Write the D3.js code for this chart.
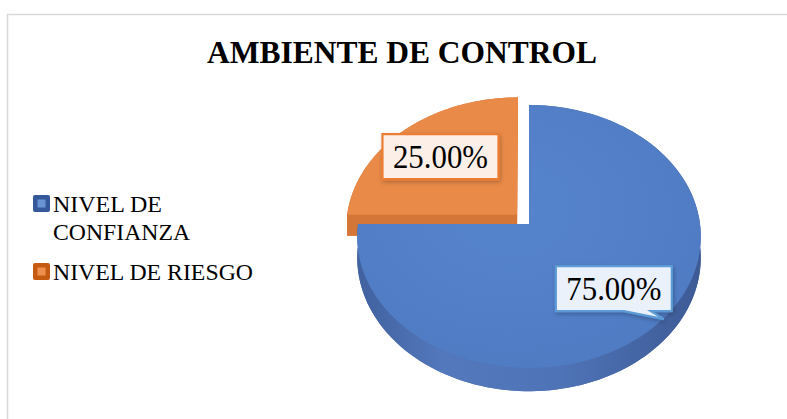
<!DOCTYPE html>
<html>
<head>
<meta charset="utf-8">
<title>Ambiente de control</title>
<script src="https://d3js.org/d3.v7.min.js"></script>
<style>
    body { margin: 0; background: #fff; }
    text { font-family: "Liberation Serif", "Times New Roman", "DejaVu Serif", serif; fill: #000; }
</style>
</head>
<body>
<div id="chart"></div>
<script>
    // data
    var categories = ["NIVEL DE CONFIANZA", "NIVEL DE RIESGO"];
    var values = [75, 25];
    var valueLabels = ["75.00%", "25.00%"];
    var legendLines = [["NIVEL DE", "CONFIANZA"], ["NIVEL DE RIESGO"]];
    var legendWidths = [[109, 137], [200]];
    var explode = [0, 0.1];

    var topColors = ["#5381c9", "#e98a48"];
    var sideColors = ["#4e6fae", "#d47637"];
    var boxFill = ["#eaf1fa", "#fbefe8"];
    var boxStroke = ["#5b9bd5", "#ed7d31"];
    var legendOuter = ["#34589a", "#c55a11"];
    var legendInner = ["#6a93d6", "#f0904f"];

    var serif = '"Liberation Serif", "Times New Roman", serif';
    var width = 787, height = 419;

    var svg = d3.select("#chart").append("svg")
        .attr("width", width)
        .attr("height", height);

    var defs = svg.append("defs");
    var shadow = defs.append("filter").attr("id", "shadow")
        .attr("x", "-20%").attr("y", "-20%").attr("width", "140%").attr("height", "150%");
    shadow.append("feDropShadow").attr("dx", 1).attr("dy", 2)
        .attr("stdDeviation", 2).attr("flood-color", "#000").attr("flood-opacity", 0.25);

    var wallGrad = defs.append("linearGradient").attr("id", "wall0")
        .attr("gradientUnits", "userSpaceOnUse")
        .attr("x1", 358).attr("x2", 701).attr("y1", 0).attr("y2", 0);
    [["0", "#41619f"], ["0.25", "#5378bc"], ["0.6", "#4e73b6"], ["1", "#3d5a95"]].forEach(function(s) {
        wallGrad.append("stop").attr("offset", s[0]).attr("stop-color", s[1]);
    });
    var topGrad = defs.append("radialGradient").attr("id", "top0")
        .attr("cx", "45%").attr("cy", "40%").attr("r", "65%");
    topGrad.append("stop").attr("offset", "0").attr("stop-color", "#5684cc");
    topGrad.append("stop").attr("offset", "1").attr("stop-color", "#4f7bc3");

    // chart area frame
    svg.append("rect")
        .attr("x", 7.5).attr("y", 14.5)
        .attr("width", 800).attr("height", 420)
        .attr("fill", "none")
        .attr("stroke", "#d9d9d9")
        .attr("stroke-width", 1.5);

    // title
    svg.append("text")
        .attr("x", 402).attr("y", 63)
        .attr("text-anchor", "middle")
        .attr("textLength", 390)
        .attr("lengthAdjust", "spacingAndGlyphs")
        .style("font-family", serif)
        .style("font-size", "31px")
        .style("font-weight", "bold")
        .text("AMBIENTE DE CONTROL");

    // perspective projection of the pie plane
    var cx = 529, cy = 224, A = 171, B = 130.3, k = 0.095, depth = 21;
    function proj(u, w, d) {
        var s = 1 / (1 - k * w);
        return [cx + A * u * s, cy + B * w * s + (d || 0) * s];
    }

    var arcs = d3.pie().sort(null).value(function(d) { return d; })(values);

    function slicePts(a, i, d) {
        var mid = (a.startAngle + a.endAngle) / 2;
        var eu = explode[i] * Math.sin(mid), ew = -explode[i] * Math.cos(mid);
        var n = 140, pts = [proj(eu, ew, d)];
        for (var j = 0; j <= n; j++) {
            var t = a.startAngle + (a.endAngle - a.startAngle) * j / n;
            pts.push(proj(eu + Math.sin(t), ew - Math.cos(t), d));
        }
        return pts;
    }

    var line = d3.line();
    var order = [1, 0];  // back slice first

    order.forEach(function(i) {
        var a = arcs[i];
        var top = slicePts(a, i, 0);
        var bottom = slicePts(a, i, depth);
        var g = svg.append("g").attr("class", "slice");

        // bottom face / radial walls
        g.append("path").attr("d", line(bottom) + "Z").attr("fill", sideColors[i]);
        [1, top.length - 1].forEach(function(e) {
            var q = [top[0], top[e], bottom[e], bottom[0]];
            g.append("path").attr("d", line(q) + "Z").attr("fill", sideColors[i]);
        });
        // outer curved wall
        var wall = top.slice(1).concat(bottom.slice(1).reverse());
        g.append("path").attr("d", line(wall) + "Z")
            .attr("fill", i === 0 ? "url(#wall0)" : sideColors[i]);
        // top face
        g.append("path").attr("d", line(top) + "Z")
            .attr("fill", i === 0 ? "url(#top0)" : topColors[i]);
    });

    // data labels
    var boxW = 116, boxH = 45;
    arcs.forEach(function(a, i) {
        var mid = (a.startAngle + a.endAngle) / 2;
        var eu = explode[i] * Math.sin(mid), ew = -explode[i] * Math.cos(mid);
        var r = 0.67;
        var p = proj(eu + r * Math.sin(mid), ew - r * Math.cos(mid), 0);
        var x0 = p[0] - boxW / 2, y0 = p[1] - boxH / 2;
        var shape;
        if (i === 0) {
            // callout with a small tail at the lower right
            shape = [[x0, y0], [x0 + boxW, y0], [x0 + boxW, y0 + boxH],
                     [x0 + 95, y0 + boxH], [x0 + 108, y0 + boxH + 8],
                     [x0 + 68, y0 + boxH], [x0, y0 + boxH]];
        } else {
            shape = [[x0, y0], [x0 + boxW, y0], [x0 + boxW, y0 + boxH], [x0, y0 + boxH]];
        }
        svg.append("path")
            .attr("d", line(shape) + "Z")
            .attr("fill", boxFill[i])
            .attr("stroke", boxStroke[i])
            .attr("stroke-width", 2.2)
            .attr("filter", "url(#shadow)");
        svg.append("text")
            .attr("x", p[0]).attr("y", p[1] + 11)
            .attr("text-anchor", "middle")
            .attr("textLength", 95)
            .attr("lengthAdjust", "spacingAndGlyphs")
            .style("font-family", serif)
            .style("font-size", "33px")
            .text(valueLabels[i]);
    });

    // legend
    var legendY = [212, 280];
    categories.forEach(function(c, i) {
        var lg = svg.append("g").attr("class", "legend");
        var by = legendY[i] - 17;
        lg.append("rect").attr("x", 33).attr("y", by).attr("width", 17).attr("height", 17)
            .attr("rx", 2).attr("fill", legendOuter[i]);
        lg.append("rect").attr("x", 37.5).attr("y", by + 4.5).attr("width", 8).attr("height", 8)
            .attr("fill", legendInner[i]);
        legendLines[i].forEach(function(t, j) {
            lg.append("text")
                .attr("x", 53).attr("y", legendY[i] + j * 28)
                .attr("textLength", legendWidths[i][j])
                .attr("lengthAdjust", "spacingAndGlyphs")
                .style("font-family", serif)
                .style("font-size", "23px")
                .text(t);
        });
    });
</script>
</body>
</html>
